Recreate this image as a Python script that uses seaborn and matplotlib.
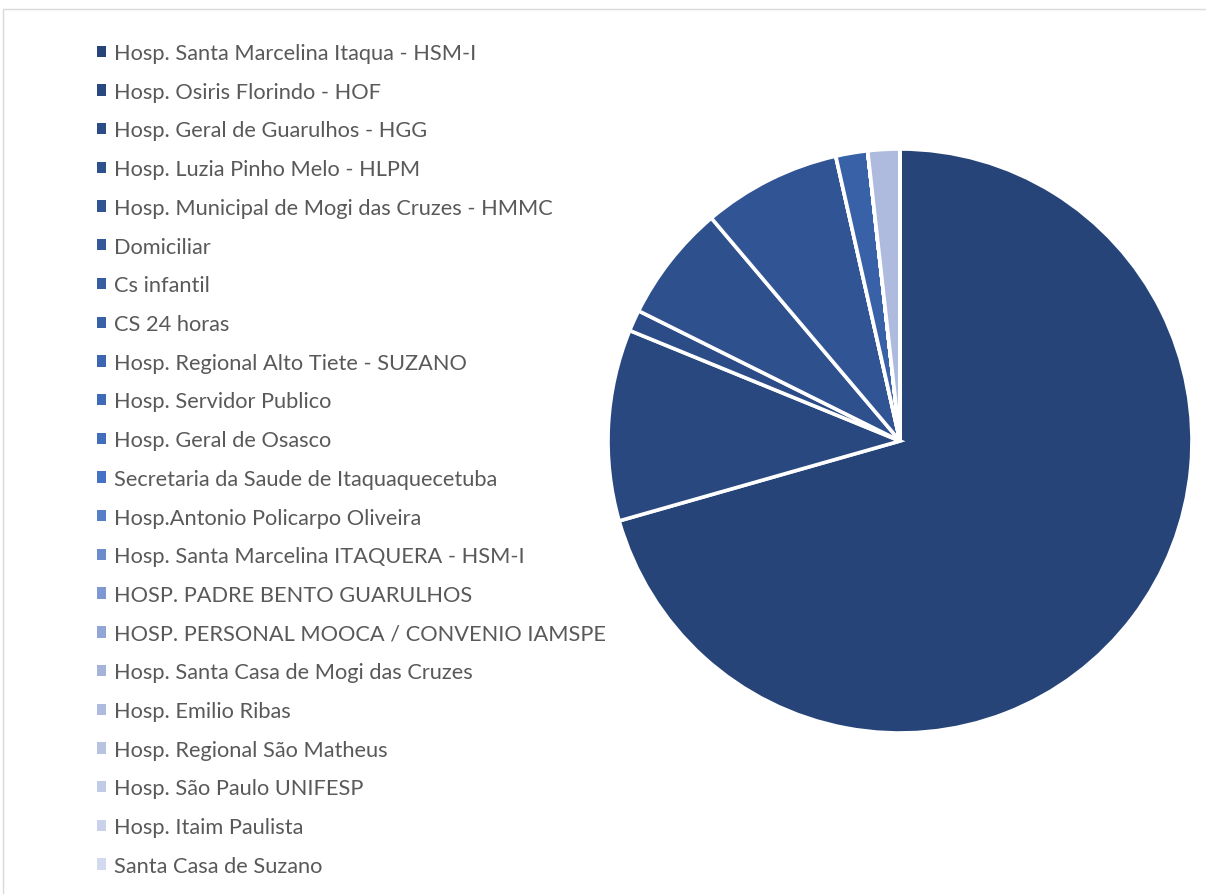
import matplotlib
matplotlib.use("Agg")
import matplotlib.pyplot as plt
from matplotlib.patches import Rectangle
import seaborn as sns

categories = [
    "Hosp. Santa Marcelina Itaqua - HSM-I",
    "Hosp. Osiris Florindo - HOF",
    "Hosp. Geral de Guarulhos - HGG",
    "Hosp. Luzia Pinho Melo - HLPM",
    "Hosp. Municipal de Mogi das Cruzes - HMMC",
    "Domiciliar",
    "Cs infantil",
    "CS 24 horas",
    "Hosp. Regional Alto Tiete - SUZANO",
    "Hosp. Servidor Publico",
    "Hosp. Geral de Osasco",
    "Secretaria da Saude de Itaquaquecetuba",
    "Hosp.Antonio Policarpo Oliveira",
    "Hosp. Santa Marcelina ITAQUERA - HSM-I",
    "HOSP. PADRE BENTO GUARULHOS",
    "HOSP. PERSONAL MOOCA / CONVENIO IAMSPE",
    "Hosp. Santa Casa de Mogi das Cruzes",
    "Hosp. Emilio Ribas",
    "Hosp. Regional São Matheus",
    "Hosp. São Paulo UNIFESP",
    "Hosp. Itaim Paulista",
    "Santa Casa de Suzano",
]
values = [120, 18, 2, 11, 13, 0, 0, 3, 0, 0, 0, 0, 0, 0, 0, 0, 0, 3, 0, 0, 0, 0]

sns.set_theme(style="white")
plt.rcParams['font.family'] = ['Lato', 'DejaVu Sans']

dark = sns.blend_palette(["#264478", "#4472c4"], 12)
light = sns.blend_palette(["#4472c4", "#a5b3da", "#d3daef"], 11)
colors = list(dark) + list(light[1:])

fig = plt.figure(figsize=(12.06, 8.95), dpi=100)
ax = fig.add_axes([(900 - 292) / 1206, (895 - 442 - 292) / 895, 584 / 1206, 584 / 895])
wedges, _ = ax.pie(values, colors=colors, startangle=90, counterclock=False,
                   wedgeprops=dict(edgecolor="white", linewidth=2.6))
ax.set_aspect("equal")
ax.set_xlim(-1, 1)
ax.set_ylim(-1, 1)
ax.axis("off")

leg = fig.legend(wedges, categories, loc="upper left",
                 bbox_to_anchor=(97 / 1206, 1 - 44 / 895),
                 frameon=False, fontsize=15.7, handlelength=0.42, handleheight=0.42,
                 handletextpad=0.37, labelspacing=0.858, borderaxespad=0, borderpad=0)
for t in leg.get_texts():
    t.set_color("#595959")
for h in leg.legend_handles:
    h.set_edgecolor("none")

fig.patches.append(Rectangle((3.5 / 1206, -0.1), 1.2, 1 - 9.5 / 895 + 0.1,
                             transform=fig.transFigure, fill=False,
                             edgecolor="#d9d9d9", linewidth=1.0))

fig.savefig("out.png", dpi=100)
